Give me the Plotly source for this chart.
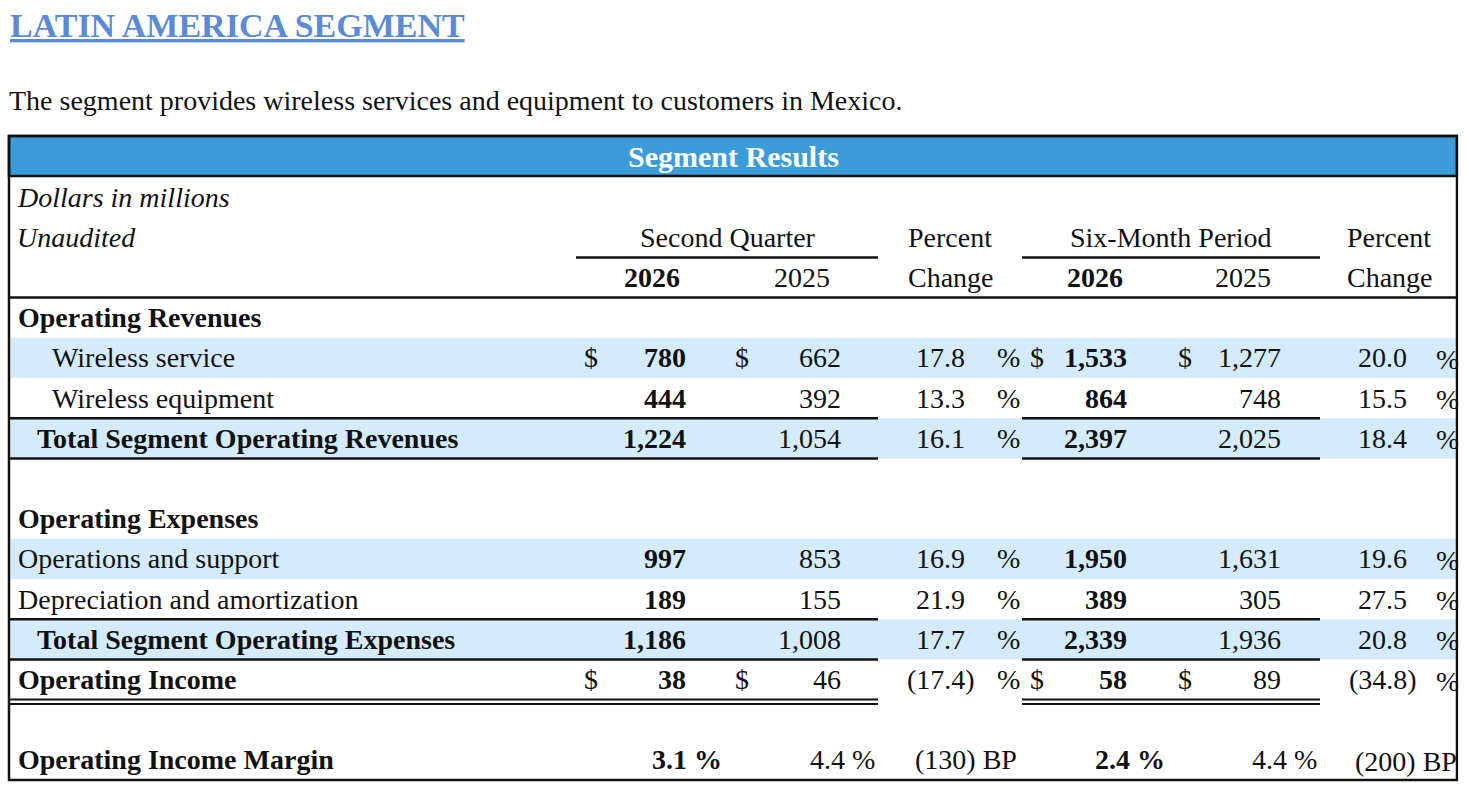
import plotly.graph_objects as go

# Dữ liệu (dollars in millions)
line_items = ["Wireless service", "Wireless equipment", "Total Segment Operating Revenues",
              "Operations and support", "Depreciation and amortization",
              "Total Segment Operating Expenses", "Operating Income"]
q2_2026 = [780, 444, 1224, 997, 189, 1186, 38]
q2_2025 = [662, 392, 1054, 853, 155, 1008, 46]
q2_change = [17.8, 13.3, 16.1, 16.9, 21.9, 17.7, -17.4]
ytd_2026 = [1533, 864, 2397, 1950, 389, 2339, 58]
ytd_2025 = [1277, 748, 2025, 1631, 305, 1936, 89]
ytd_change = [20.0, 15.5, 18.4, 19.6, 27.5, 20.8, -34.8]

margin_label = "Operating Income Margin"
margin_q2 = [3.1, 4.4]
margin_q2_bp = -130
margin_ytd = [2.4, 4.4]
margin_ytd_bp = -200

periods = ["Second Quarter", "Six-Month Period"]
years = ["2026", "2025"]
sections = ["Operating Revenues", "Operating Expenses"]

# bố cục hàng của bảng (kiểu hàng, chỉ số dữ liệu)
rows = [
    ("section", 0), ("indent", 0), ("indent", 1), ("total", 2), ("blank", None),
    ("section", 1), ("item", 3), ("item", 4), ("total", 5), ("income", 6),
    ("blank", None), ("margin", None),
]
shaded = [0, 2, 3, 5]
dollar_rows = [0, 6]

FONT = "Liberation Serif"
FS = 28
BLUE = "#3c9bd9"
LIGHT = "#d3ebfc"
INK = "#111111"
TOP, RH = 177, 40.2          # đầu lưới hàng và chiều cao hàng (px)
LEFT, RIGHT = 9, 1457
XEND = 1458.3                # vùng vẽ dừng ở viền phải -> chữ cột cuối bị cắt như bản gốc
TRACE_DY = 4                 # bù lệch dọc của chữ trong trace so với annotation


def yc(r):
    return TOP + (r + 0.5) * RH


def ye(r):
    return TOP + r * RH


ann = []


def txt(x, r, s, anchor="left", bold=False, italic=False, size=FS, color=INK, y=None):
    if bold:
        s = "<b>" + s + "</b>"
    if italic:
        s = "<i>" + s + "</i>"
    ann.append(dict(x=x, y=yc(r) if y is None else y, xref="x", yref="y", text=s, showarrow=False,
                    xanchor=anchor, yanchor="middle", font=dict(family=FONT, size=size, color=color)))


def pct(v):
    return f"({abs(v):.1f})" if v < 0 else f"{v:.1f}"


shapes = []


def hline(y, spans, w=2.5):
    for a, b in spans:
        shapes.append(dict(type="line", xref="x", yref="y", x0=a, x1=b, y0=y, y1=y,
                           line=dict(color=INK, width=w)))


QSPAN, YSPAN = (576, 878), (1022, 1320)
BODY = 3  # hàng đầu tiên của phần thân

# nền xanh nhạt
for k, (kind, i) in enumerate(rows):
    if i is not None and kind != "section" and i in shaded:
        r = BODY + k
        shapes.append(dict(type="rect", xref="x", yref="y", x0=LEFT + 2, x1=RIGHT - 1,
                           y0=ye(r), y1=ye(r + 1), fillcolor=LIGHT, line=dict(width=0), layer="below"))

# tiêu đề bảng
shapes.append(dict(type="rect", xref="x", yref="y", x0=LEFT, x1=RIGHT, y0=136, y1=176,
                   fillcolor=BLUE, line=dict(color=INK, width=2.5), layer="below"))
txt(733, 0, "Segment Results", anchor="center", bold=True, color="white", y=156, size=30)

txt(8, 0, "<u>LATIN AMERICA SEGMENT</u>", bold=True, size=34, color="#5b8bd8", y=25)
txt(7, 0, "The segment provides wireless services and equipment to customers in Mexico.", y=100)

txt(15, 0, "Dollars in millions", italic=True)
txt(15, 1, "Unaudited", italic=True)
txt(728, 1, periods[0], anchor="center")
txt(1170, 1, periods[1], anchor="center")
txt(906, 1, "Percent")
txt(906, 2, "Change")
txt(1345, 1, "Percent")
txt(1345, 2, "Change")
for cx, yr, b in [(652, years[0], True), (802, years[1], False), (1095, years[0], True), (1243, years[1], False)]:
    txt(cx, 2, yr, anchor="center", bold=b)
hline(ye(2), [QSPAN, YSPAN])
hline(ye(3), [(LEFT, RIGHT)])

# cột cuối: vẽ bằng trace để bị cắt tại viền phải
last_x, last_y, last_t = [], [], []

PAREN = 10
for k, (kind, i) in enumerate(rows):
    r = BODY + k
    if kind == "section":
        txt(16, r, sections[i], bold=True)
    elif kind in ("indent", "item", "total", "income"):
        bold = kind in ("total", "income")
        lx = {"indent": 50, "item": 16, "total": 35, "income": 16}[kind]
        txt(lx, r, line_items[i], bold=bold)
        if i in dollar_rows:
            for dx in (582, 733, 1028, 1176):
                txt(dx, r, "$")
        txt(688, r, f"{q2_2026[i]:,}", anchor="right", bold=True)
        txt(843, r, f"{q2_2025[i]:,}", anchor="right")
        txt(967 + (PAREN if q2_change[i] < 0 else 0), r, pct(q2_change[i]), anchor="right")
        txt(995, r, "%")
        txt(1129, r, f"{ytd_2026[i]:,}", anchor="right", bold=True)
        txt(1283, r, f"{ytd_2025[i]:,}", anchor="right")
        txt(1409 + (PAREN if ytd_change[i] < 0 else 0), r, pct(ytd_change[i]), anchor="right")
        last_x.append(1436)
        last_y.append(yc(r) + TRACE_DY)
        last_t.append("%")
        if kind == "total":
            hline(ye(r), [(LEFT, QSPAN[1]), YSPAN])
            hline(ye(r + 1), [(LEFT, QSPAN[1]), YSPAN])
        if kind == "income":
            hline(ye(r + 1), [(LEFT, QSPAN[1]), YSPAN], w=2)
            hline(ye(r + 1) + 4.5, [(LEFT, QSPAN[1]), YSPAN], w=2)
    elif kind == "margin":
        txt(16, r, margin_label, bold=True)
        txt(724, r, f"{margin_q2[0]:.1f} %", anchor="right", bold=True)
        txt(877, r, f"{margin_q2[1]:.1f} %", anchor="right")
        txt(1019, r, f"({abs(margin_q2_bp)}) BP", anchor="right")
        txt(1167, r, f"{margin_ytd[0]:.1f} %", anchor="right", bold=True)
        txt(1319, r, f"{margin_ytd[1]:.1f} %", anchor="right")
        last_x.append(1355)
        last_y.append(yc(r) + TRACE_DY)
        last_t.append(f"({abs(margin_ytd_bp)}) BP")

# khung ngoài
shapes.append(dict(type="rect", xref="x", yref="y", x0=LEFT, x1=RIGHT, y0=136, y1=ye(len(rows) + BODY),
                   line=dict(color=INK, width=2.5)))

fig = go.Figure()
fig.add_trace(go.Scatter(
    x=last_x, y=last_y, text=last_t, mode="text", textposition="middle right",
    textfont=dict(family=FONT, size=FS, color=INK), hoverinfo="skip", cliponaxis=True,
))
fig.update_layout(
    width=1466, height=790,
    margin=dict(t=0, l=0, r=0, b=0),
    paper_bgcolor="white", plot_bgcolor="white",
    xaxis=dict(range=[0, XEND], domain=[0, XEND / 1466], visible=False, fixedrange=True),
    yaxis=dict(range=[790, 0], visible=False, fixedrange=True),
    annotations=ann, shapes=shapes, showlegend=False,
)

fig.write_html("out.html", config={"displayModeBar": False},
               post_script="document.body.style.margin='0';")
